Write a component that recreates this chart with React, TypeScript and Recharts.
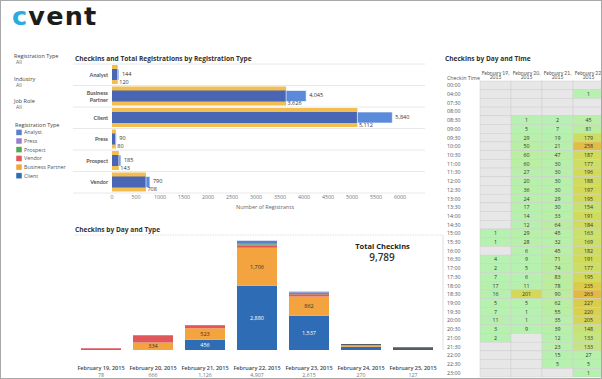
import React from "react";
import { BarChart, Bar, XAxis, YAxis, LabelList, ScatterChart, Scatter } from "recharts";

const FONT = "'Open Sans', 'Noto Sans', sans-serif";
const NARROW = "Lato, 'Open Sans', sans-serif";

// Checkins and total registrations by registration type
const regTypes = ["Analyst", "Business Partner", "Client", "Press", "Prospect", "Vendor"];
const registrations = [144, 4045, 5840, 90, 185, 790];
const checkins = [120, 3626, 5112, 80, 143, 708];
const regTicks = [0, 500, 1000, 1500, 2000, 2500, 3000, 3500, 4000, 4500, 5000, 5500, 6000];

// Checkins by day and type
const days = [
  "February 19, 2015",
  "February 20, 2015",
  "February 21, 2015",
  "February 22, 2015",
  "February 23, 2015",
  "February 24, 2015",
  "February 25, 2015",
];
const clientByDay = [0, 0, 456, 2880, 1537, 150, 0];
const partnerByDay = [0, 334, 523, 1706, 862, 55, 0];
const vendorByDay = [78, 332, 130, 110, 100, 10, 0];
const prospectByDay = [0, 0, 10, 50, 60, 0, 0];
const pressByDay = [0, 0, 0, 60, 20, 0, 0];
const analystByDay = [0, 0, 0, 101, 19, 0, 0];
const otherByDay = [0, 0, 7, 0, 17, 55, 127];

// Checkins by day and time (heatmap)
const slots = [
  "00:00", "04:00", "07:30", "08:00", "08:30", "09:00", "09:30", "10:00", "10:30", "11:00",
  "11:30", "12:00", "12:30", "13:00", "13:30", "14:00", "14:30", "15:00", "15:30", "16:00",
  "16:30", "17:00", "17:30", "18:00", "18:30", "19:00", "19:30", "20:00", "20:30", "21:00",
  "21:30", "22:00", "22:30", "23:00",
];
const heatDays = ["February 19, 2015", "February 20, 2015", "February 21, 2015", "February 22, 2015"];
const n = null;
const feb19 = [n, n, n, n, n, n, n, n, n, n, n, n, n, n, n, n, n, 1, 1, n, 4, 2, 7, 17, 16, 5, 7, 11, 3, 2, n, n, n, n];
const feb20 = [n, n, n, n, 1, 5, 29, 50, 60, 60, 27, 20, 36, 24, 17, 14, 12, 29, 28, 6, 9, 5, 6, 11, 201, 5, 1, 1, 9, n, n, n, n, n];
const feb21 = [n, n, n, n, 2, 7, 19, 21, 47, 30, 30, 30, 30, 29, 30, 33, 64, 45, 32, 45, 71, 74, 83, 78, 90, 62, 55, 35, 39, 12, 23, 15, 5, n];
const feb22 = [n, 1, n, n, 45, 81, 179, 258, 187, 177, 196, 188, 197, 195, 154, 191, 184, 163, 169, 182, 191, 177, 195, 235, 263, 227, 220, 205, 148, 133, 133, 27, 5, 1];
const heatCols = [feb19, feb20, feb21, feb22];

const typeColors = {
  Analyst: "#5b80c9",
  Press: "#9a80cc",
  Prospect: "#4dab55",
  Vendor: "#e0575a",
  "Business Partner": "#f4a43e",
  Client: "#2e6db5",
};
const otherColor = "#555b63";

const fmt = (v: number) => v.toLocaleString("en-US");

const regData = regTypes.map((name, i) => ({
  name,
  registrations: registrations[i],
  checkins: checkins[i],
  regIn: checkins[i],
  regOut: registrations[i] - checkins[i],
}));

const dayData = days.map((day, i) => ({
  day,
  client: clientByDay[i],
  partner: partnerByDay[i],
  vendor: vendorByDay[i],
  prospect: prospectByDay[i],
  press: pressByDay[i],
  analyst: analystByDay[i],
  other: otherByDay[i],
  total:
    clientByDay[i] + partnerByDay[i] + vendorByDay[i] + prospectByDay[i] + pressByDay[i] + analystByDay[i] + otherByDay[i],
}));

const heatData: { x: number; y: number; v: number | null }[] = [];
heatCols.forEach((col, j) => col.forEach((v, i) => heatData.push({ x: j, y: i, v })));

const totalCheckins = checkins.reduce((a, b) => a + b, 0);

const heatStops: [number, string][] = [
  [0, "#b6f1b1"],
  [90, "#bcec9c"],
  [150, "#c8e275"],
  [195, "#d2da58"],
  [235, "#dcca4a"],
  [265, "#e4b843"],
];
function heatColor(v: number) {
  for (let k = 1; k < heatStops.length; k++) {
    if (v <= heatStops[k][0]) {
      const [v0, c0] = heatStops[k - 1];
      const [v1, c1] = heatStops[k];
      const t = (v - v0) / (v1 - v0);
      const a = parseInt(c0.slice(1), 16);
      const b = parseInt(c1.slice(1), 16);
      const ch = (s: number) => Math.round(((a >> s) & 255) * (1 - t) + ((b >> s) & 255) * t);
      return `rgb(${ch(16)},${ch(8)},${ch(0)})`;
    }
  }
  return heatStops[heatStops.length - 1][1];
}

// top chart sizes
const TOP_W = 355;
const TOP_H = 150;
const TOP_AXIS_W = 42;
const TOP_XAXIS_H = 21;
const topBand = (TOP_H - TOP_XAXIS_H) / regTypes.length;

// heatmap sizes
const HM_W = 190;
const HM_H = 318;
const HM_LEFT_W = 56;
const HM_TOP_H = 21;
const HM_RIGHT = 10;
const HM_BOTTOM = 1;
const cellW = (HM_W - HM_LEFT_W - HM_RIGHT) / heatDays.length;
const cellH = (HM_H - HM_TOP_H - HM_BOTTOM) / slots.length;

const RegTypeTick = (props: any) => {
  const { x, y, payload } = props;
  const parts = payload.value === "Business Partner" ? ["Business", "Partner"] : [payload.value];
  return (
    <g fontSize={5.5} fontWeight={700} fill="#555" fontFamily={NARROW}>
      {parts.map((p: string, i: number) => (
        <text key={i} x={x} y={y + 2 + (parts.length > 1 ? (i === 0 ? -3.3 : 3.3) : 0)} textAnchor="end">
          {p}
        </text>
      ))}
    </g>
  );
};

const regLabel = (props: any) => {
  const { x, y, width, height, value } = props;
  return (
    <text x={x + width + 3} y={y + height / 2 + 1.2} fontSize={5.5} fill="#333" fontFamily={FONT}>
      {fmt(Number(value))}
    </text>
  );
};

const checkinLabel = (props: any) => {
  const { x, y, width, height, value } = props;
  return (
    <text x={x + width + 1.5} y={y + height / 2 + 9} fontSize={5.5} fill="#333" fontFamily={FONT}>
      {fmt(Number(value))}
    </text>
  );
};

const inBarLabel = (color: string) => (props: any) => {
  const { x, y, width, height, value } = props;
  if (Number(value) < 300) return null;
  return (
    <text x={x + width / 2} y={y + height / 2 + 2} textAnchor="middle" fontSize={5.5} fill={color} fontFamily={FONT}>
      {fmt(Number(value))}
    </text>
  );
};

const DayTick = (props: any) => {
  const { x, y, payload, index } = props;
  const row = dayData[index] || dayData.find((d) => d.day === payload.value);
  return (
    <g fontFamily={FONT}>
      <text x={x} y={y + 20} textAnchor="middle" fontSize={5.5} fontWeight={600} fill="#444">
        {payload.value}
      </text>
      <text x={x} y={y + 27} textAnchor="middle" fontSize={5.3} fill="#777">
        {row ? fmt(row.total) : ""}
      </text>
    </g>
  );
};

const HeatDayTick = (props: any) => {
  const { x, y, payload } = props;
  const label = heatDays[payload.value] || "";
  const [a, b] = label.split(", ");
  return (
    <g fontFamily={NARROW} fontSize={5} fill="#555">
      <text x={x} y={y - 6.3} textAnchor="middle">
        {a},
      </text>
      <text x={x} y={y - 1.7} textAnchor="middle">
        {b}
      </text>
    </g>
  );
};

const HeatTimeTick = (props: any) => {
  const { y, payload } = props;
  return (
    <text x={23} y={y + 2} fontSize={5.3} fill="#555" fontFamily={FONT}>
      {slots[payload.value]}
    </text>
  );
};

const HeatCell = (props: any) => {
  const { cx, cy, payload } = props;
  const v = payload.v;
  return (
    <g>
      <rect
        x={cx - cellW / 2}
        y={cy - cellH / 2}
        width={cellW}
        height={cellH}
        fill={v == null ? "#e7e7e7" : heatColor(v)}
        stroke="#cdcdcd"
        strokeWidth={0.5}
      />
      {v != null && (
        <text x={cx} y={cy + 2} textAnchor="middle" fontSize={5.3} fill="#333" fontFamily={FONT}>
          {v}
        </text>
      )}
    </g>
  );
};

const legendItems = ["Analyst", "Press", "Prospect", "Vendor", "Business Partner", "Client"] as const;
const filters = [
  { label: "Registration Type", y: 56 },
  { label: "Industry", y: 79 },
  { label: "Job Role", y: 101 },
];

export default function App() {
  return (
    <div style={{ position: "relative", width: 602, height: 379, overflow: "hidden", background: "#fff", fontFamily: FONT }}>
      <style>{"body{margin:0}"}</style>
      <div
        style={{
          position: "absolute",
          left: 12,
          top: 0.5,
          fontSize: 25.5,
          fontWeight: 700,
          letterSpacing: 1.2,
          fontFamily: "'DejaVu Sans', sans-serif",
          color: "#1c1c1c",
        }}
      >
        <span style={{ color: "#29aae1" }}>c</span>vent
      </div>
      <svg width={602} height={379} style={{ position: "absolute", left: 0, top: 0 }}>
        {filters.map((f) => (
          <g key={f.label} fontFamily={FONT}>
            <text x={14} y={f.y + 2} fontSize={5.5} fill="#444">
              {f.label}
            </text>
            <text x={16} y={f.y + 7.5} fontSize={5} fill="#666">
              All
            </text>
          </g>
        ))}
        <text x={15} y={127} fontSize={5.5} fill="#444" fontFamily={FONT}>
          Registration Type
        </text>
        {legendItems.map((t, i) => {
          const cy = 132.3 + i * 8.7;
          return (
            <g key={t}>
              <rect x={16} y={cy - 3} width={6} height={6} fill={typeColors[t]} stroke="#fff" strokeWidth={0.5} />
              <text x={24} y={cy + 2} fontSize={5.3} fill="#555" fontFamily={FONT}>
                {t}
              </text>
            </g>
          );
        })}

        <text x={75} y={60.5} fontSize={6.6} fontWeight={700} fill="#333" fontFamily={FONT}>
          Checkins and Total Registrations by Registration Type
        </text>
        {regTypes.concat([""]).map((_, i) => (
          <line key={i} x1={73} x2={425} y1={64 + i * topBand} y2={64 + i * topBand} stroke="#e2e2e2" strokeWidth={0.8} />
        ))}

        <text x={75} y={231.5} fontSize={6.6} fontWeight={700} fill="#333" fontFamily={FONT}>
          Checkins by Day and Type
        </text>
        <line x1={75} x2={443} y1={235} y2={235} stroke="#d8d8d8" strokeWidth={0.8} strokeDasharray="1.5 1" />
        <line x1={443} x2={443} y1={235} y2={350} stroke="#d8d8d8" strokeWidth={0.8} />

        <text x={445} y={60.5} fontSize={6.6} fontWeight={700} fill="#333" fontFamily={FONT}>
          Checkins by Day and Time
        </text>
        <text x={447} y={80.3} fontSize={5.3} fill="#555" fontFamily={FONT}>
          Checkin Time
        </text>
      </svg>

      <div style={{ position: "absolute", left: 70, top: 64 }}>
        <BarChart width={TOP_W} height={TOP_H} data={regData} layout="vertical" margin={{ top: 0, right: 7, bottom: 0, left: 0 }}>
          <XAxis
            type="number"
            domain={[0, 6375]}
            ticks={regTicks}
            axisLine={false}
            tickLine={false}
            tickSize={0}
            tickMargin={2.5}
            height={TOP_XAXIS_H}
            tick={{ fontSize: 5.3, fill: "#777", fontFamily: FONT }}
            label={{ value: "Number of Registrants", position: "insideBottom", offset: 5, fontSize: 5.5, fill: "#666", fontFamily: FONT }}
          />
          <YAxis
            yAxisId="a"
            type="category"
            dataKey="name"
            width={TOP_AXIS_W}
            axisLine={false}
            tickLine={false}
            tickSize={0}
            tickMargin={4}
            interval={0}
            tick={<RegTypeTick />}
          />
          <YAxis yAxisId="b" type="category" dataKey="name" hide />
          <Bar yAxisId="a" dataKey="checkins" fill="#f4bd50" barSize={19} isAnimationActive={false}>
            <LabelList dataKey="checkins" content={checkinLabel} />
          </Bar>
          <Bar yAxisId="b" dataKey="regIn" stackId="r" fill="#4866b4" barSize={11} isAnimationActive={false} />
          <Bar yAxisId="b" dataKey="regOut" stackId="r" fill="#5a8ad9" stroke="#fff" strokeWidth={0.6} barSize={11} isAnimationActive={false}>
            <LabelList dataKey="registrations" content={regLabel} />
          </Bar>
        </BarChart>
      </div>

      <div style={{ position: "absolute", left: 75, top: 235 }}>
        <BarChart width={368} height={144} data={dayData} margin={{ top: 0, right: 4, bottom: 0, left: 0 }}>
          <XAxis
            dataKey="day"
            axisLine={false}
            tickLine={false}
            tickSize={0}
            tickMargin={0}
            height={29}
            interval={0}
            tick={<DayTick />}
          />
          <YAxis hide domain={[0, 5160]} />
          <Bar dataKey="client" stackId="s" fill={typeColors.Client} barSize={40} isAnimationActive={false}>
            <LabelList dataKey="client" content={inBarLabel("#fff")} />
          </Bar>
          <Bar dataKey="partner" stackId="s" fill={typeColors["Business Partner"]} barSize={40} isAnimationActive={false}>
            <LabelList dataKey="partner" content={inBarLabel("#333")} />
          </Bar>
          <Bar dataKey="vendor" stackId="s" fill={typeColors.Vendor} barSize={40} isAnimationActive={false} />
          <Bar dataKey="prospect" stackId="s" fill={typeColors.Prospect} barSize={40} isAnimationActive={false} />
          <Bar dataKey="press" stackId="s" fill={typeColors.Press} barSize={40} isAnimationActive={false} />
          <Bar dataKey="analyst" stackId="s" fill={typeColors.Analyst} barSize={40} isAnimationActive={false} />
          <Bar dataKey="other" stackId="s" fill={otherColor} barSize={40} isAnimationActive={false} />
        </BarChart>
      </div>

      <svg width={602} height={379} style={{ position: "absolute", left: 0, top: 0, pointerEvents: "none" }}>
        <text x={382.5} y={249.3} textAnchor="middle" fontSize={7.5} fontWeight={700} fill="#222" fontFamily={FONT}>
          Total Checkins
        </text>
        <text x={382} y={261} textAnchor="middle" fontSize={10} fontWeight={600} fill="#333" fontFamily={FONT}>
          {fmt(totalCheckins)}
        </text>
      </svg>

      <div style={{ position: "absolute", left: 424, top: 60 }}>
        <ScatterChart width={HM_W} height={HM_H} margin={{ top: 0, right: HM_RIGHT, bottom: HM_BOTTOM, left: 0 }}>
          <XAxis
            type="number"
            dataKey="x"
            orientation="top"
            domain={[-0.5, heatDays.length - 0.5]}
            ticks={heatDays.map((_, i) => i)}
            interval={0}
            height={HM_TOP_H}
            axisLine={false}
            tickLine={false}
            tickSize={0}
            tickMargin={0}
            tick={<HeatDayTick />}
          />
          <YAxis
            type="number"
            dataKey="y"
            reversed
            domain={[-0.5, slots.length - 0.5]}
            ticks={slots.map((_, i) => i)}
            interval={0}
            width={HM_LEFT_W}
            axisLine={false}
            tickLine={false}
            tick={<HeatTimeTick />}
          />
          <Scatter data={heatData} shape={<HeatCell />} isAnimationActive={false} />
        </ScatterChart>
      </div>

      <div
        style={{
          position: "absolute",
          left: 0,
          top: 0,
          width: 602,
          height: 379,
          border: "1px solid #a8a8a8",
          boxSizing: "border-box",
          pointerEvents: "none",
        }}
      />
    </div>
  );
}
